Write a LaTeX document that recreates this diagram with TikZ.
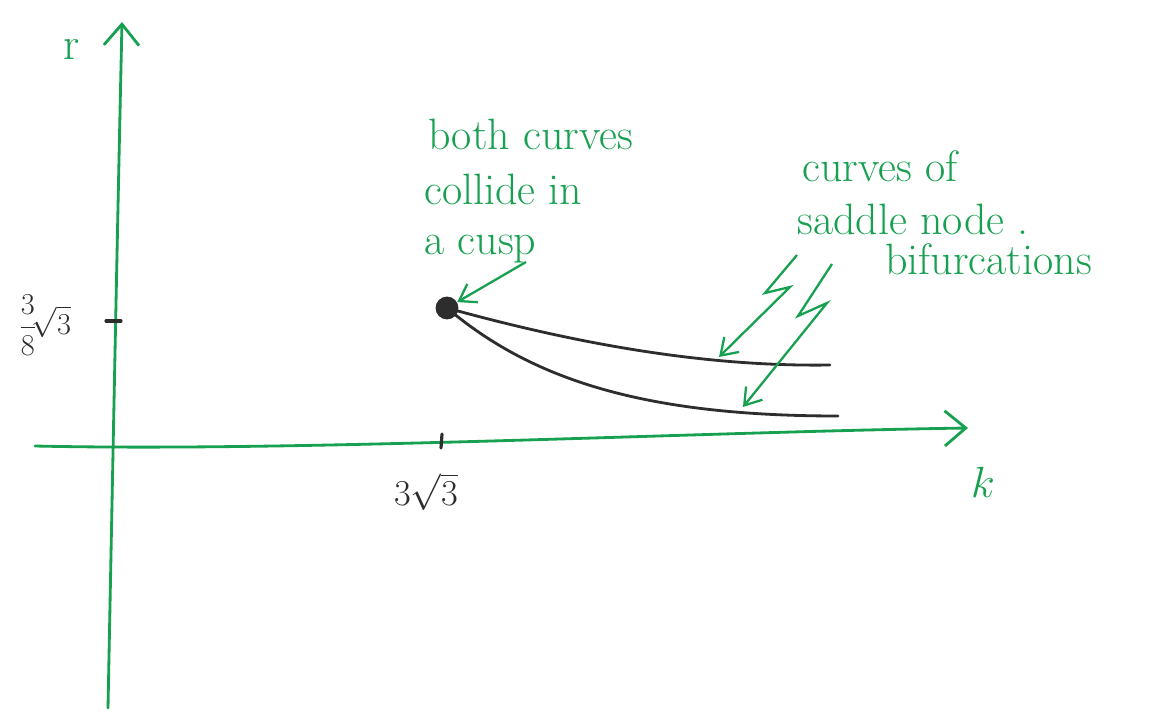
\documentclass[tikz,border=0pt]{standalone}
\usetikzlibrary{arrows.meta}
\definecolor{pen}{RGB}{22,160,80}
\definecolor{ink}{RGB}{45,45,45}
\tikzset{
  axis/.style={pen, line width=1.6pt, line cap=round, -{Straight Barb[length=12pt,width=20pt,line width=1.6pt]}},
  pointer/.style={pen, line width=1.3pt, line join=miter, -{Straight Barb[length=9pt,width=12pt,line width=1.3pt]}},
  curve/.style={ink, line width=1.6pt, line cap=round},
  tick/.style={ink, line width=1.8pt, line cap=round},
  greentext/.style={pen, font=\fontsize{25}{30}\selectfont, inner sep=0pt},
  inktext/.style={ink, inner sep=0pt},
}
\begin{document}
\begin{tikzpicture}[x=0.02cm,y=-0.02cm]
\useasboundingbox (0,0) rectangle (1159,719);
% axes
\coordinate (rbot) at (108,708);
\coordinate (rtop) at (122,22);
\coordinate (kleft) at (35,446);
\coordinate (kright) at (968,428);
\draw[axis] (rbot) .. controls (114,400) and (118,200) .. (rtop);
\draw[axis] (kleft) .. controls (300,452) and (700,432) .. (kright);
\node[pen, font=\fontsize{26}{26}\selectfont, inner sep=0pt] (rlab) at (72,50) {r};
\node[pen, font=\fontsize{28}{28}\selectfont, inner sep=0pt] (klab) at (983,482) {$k$};
% ticks
\coordinate (rt1) at (106,321);
\coordinate (rt2) at (121,321);
\draw[tick] (rt1) -- (rt2);
\coordinate (kt1) at (442,434);
\coordinate (kt2) at (441,448);
\draw[tick] (kt1) -- (kt2);
\node[inktext, font=\fontsize{19}{19}\selectfont] (rval) at (45,325) {$\displaystyle\frac{3}{8}\!\sqrt{3}$};
\node[inktext, font=\fontsize{22}{22}\selectfont] (kval) at (426,492) {$3\sqrt{3}$};
% cusp and curves
\node[circle, fill=ink, minimum size=13pt, inner sep=0pt] (cusp) at (447,308) {};
\coordinate (upend) at (830,365);
\coordinate (loend) at (838,416);
\draw[curve] (cusp.center) .. controls (570,342) and (700,367) .. (upend);
\draw[curve] (cusp.center) .. controls (530,378) and (640,416) .. (loend);
% left text
\node[greentext, anchor=base west] (t1) at (428,150) {both curves};
\node[greentext, anchor=base west] (t2) at (424,205) {collide in};
\node[greentext, anchor=base west] (t3) at (424,255) {a cusp};
\coordinate (cuspptr) at (526,262);
\draw[pointer] (cuspptr) -- (cusp);
% right text
\node[greentext, anchor=base west] (s1) at (802,182) {curves of};
\node[greentext, anchor=base west] (s2) at (797,235) {saddle node .};
\node[greentext, anchor=base west] (s3) at (885,275) {bifurcations};
% lightning arrows
\coordinate (z1a) at (797,255);
\coordinate (z1b) at (765,293);
\coordinate (z1c) at (790,287);
\coordinate (z1d) at (719,357);
\draw[pointer] (z1a) -- (z1b) -- (z1c) -- (z1d);
\coordinate (z2a) at (832,264);
\coordinate (z2b) at (798,316);
\coordinate (z2c) at (827,303);
\coordinate (z2d) at (743,407);
\draw[pointer] (z2a) -- (z2b) -- (z2c) -- (z2d);
\end{tikzpicture}
\end{document}
